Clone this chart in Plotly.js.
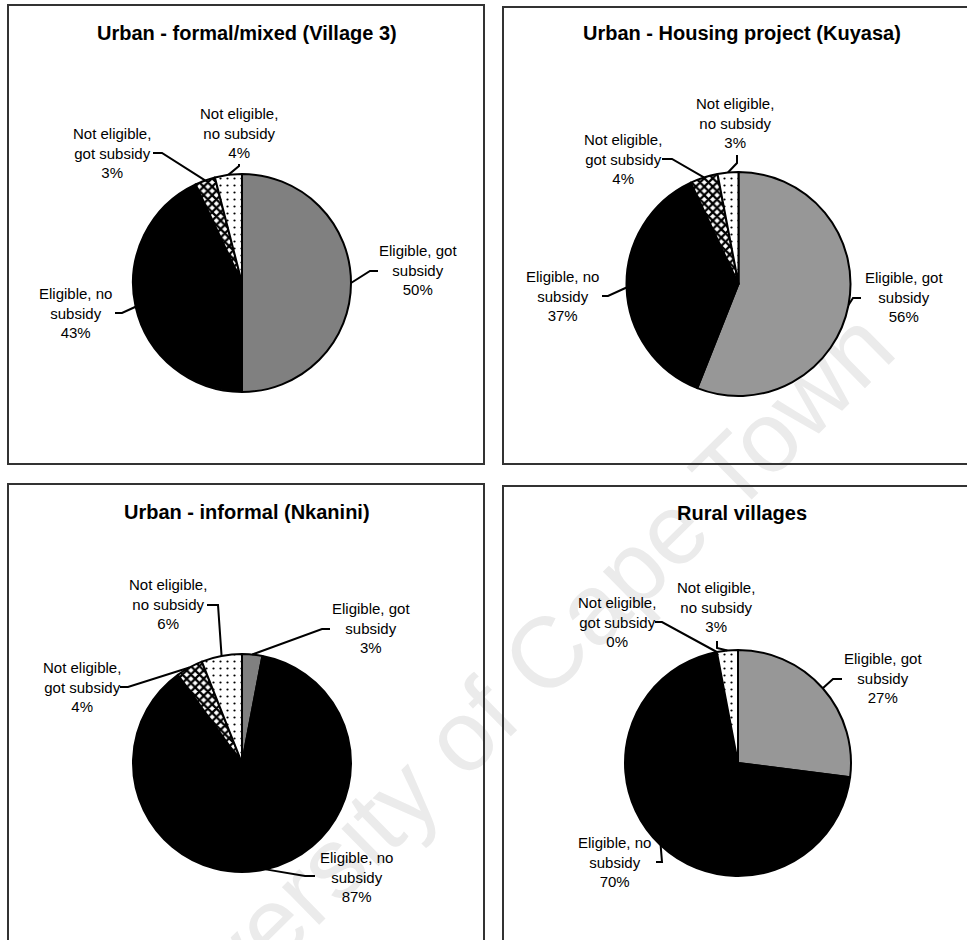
<!DOCTYPE html>
<html>
<head>
<meta charset="utf-8">
<script src="https://cdn.plot.ly/plotly-3.0.1.min.js"></script>
<style>html,body{margin:0;padding:0;background:#fff;}#chart{width:967px;height:940px;}</style>
</head>
<body>
<div id="chart"></div>
<script>
// ---- data ----
const categories = ["Eligible, got subsidy", "Eligible, no subsidy", "Not eligible, got subsidy", "Not eligible, no subsidy"];
const wrappedLabels = ["Eligible, got<br>subsidy", "Eligible, no<br>subsidy", "Not eligible,<br>got subsidy", "Not eligible,<br>no subsidy"];
const titles = ["Urban - formal/mixed (Village 3)", "Urban - Housing project (Kuyasa)", "Urban - informal (Nkanini)", "Rural villages"];
const village3 = [50, 43, 3, 4];
const kuyasa = [56, 37, 4, 3];
const nkanini = [3, 87, 4, 6];
const rural = [27, 70, 0, 3];
const seriesList = [village3, kuyasa, nkanini, rural];
const watermark = "University of Cape Town";

// ---- layout (pixels) ----
const W = 967, H = 940;
const FONT = "Liberation Sans, Arial, Helvetica, sans-serif";
const panels = [
  {cx: 242, cy: 283, r: 109, gray: "#808080", tx: 247, ty: 33, frame: [8, 5, 484, 464],
   labels: [[418, 270, 378, 271, 370, 271], [75, 313, 115, 313, 122, 313], [112, 153, 153, 153, 162, 153], [239, 133, 239, 164, 239, 166]]},
  {cx: 738.5, cy: 284, r: 112, gray: "#979797", tx: 742, ty: 33, frame: [503, 7, 975, 464],
   labels: [[904, 297, 861, 298, 853, 298], [562, 296, 602, 296, 608, 296], [623, 159, 662, 159, 672, 159], [735, 123, 737, 155, 737, 163]]},
  {cx: 242, cy: 763, r: 109, gray: "#808080", tx: 247, ty: 512, frame: [8, 484, 484, 950],
   labels: [[371, 628, 330, 629, 322, 629], [356, 877, 315, 876, 305, 876], [82, 687, 120, 687, 128, 687], [168, 604, 207, 605, 218, 605]]},
  {cx: 738, cy: 763, r: 113, gray: "#979797", tx: 742, ty: 513, frame: [503, 486, 975, 950],
   labels: [[883, 678, 842, 679, 833, 679], [614, 862, 656, 862, 662, 862], [617, 622, 655, 622, 662, 622], [716, 607, 717, 641, 717, 648]]}
];

const px = x => x / W;
const py = y => 1 - y / H;

const traces = [];
const annotations = [];
const shapes = [];

// watermark (below the pies)
const wmC = [485, 700], wmAng = -44.5 * Math.PI / 180, wmHalf = 350;
shapes.push({
  type: "line", xref: "paper", yref: "paper", layer: "below",
  x0: px(wmC[0] - wmHalf * Math.cos(wmAng)), y0: py(wmC[1] - wmHalf * Math.sin(wmAng)),
  x1: px(wmC[0] + wmHalf * Math.cos(wmAng)), y1: py(wmC[1] + wmHalf * Math.sin(wmAng)),
  line: {color: "rgba(0,0,0,0)", width: 0},
  label: {text: watermark, textangle: "auto", textposition: "middle", yanchor: "middle",
          font: {family: FONT, size: 100, color: "#ebebeb"}}
});

panels.forEach((p, i) => {
  const vals = seriesList[i];
  traces.push({
    type: "pie",
    values: vals,
    labels: categories,
    sort: false,
    direction: "clockwise",
    rotation: 0,
    textinfo: "none",
    hoverinfo: "label+percent",
    showlegend: false,
    domain: {x: [px(p.cx - p.r), px(p.cx + p.r)], y: [py(p.cy + p.r), py(p.cy - p.r)]},
    marker: {
      colors: [p.gray, "#000000", "#ffffff", "#ffffff"],
      line: {color: "#000000", width: 2},
      pattern: {shape: ["", "", "x", "."], fgcolor: "#000000", size: [8, 8, 6, 7], solidity: [0.3, 0.3, 0.6, 0.08]}
    }
  });

  // frame
  shapes.push({type: "rect", xref: "paper", yref: "paper", layer: "above",
    x0: px(p.frame[0]), x1: px(p.frame[2]), y0: py(p.frame[3]), y1: py(p.frame[1]),
    line: {color: "#333333", width: 2}, fillcolor: "rgba(0,0,0,0)"});

  // title
  annotations.push({xref: "paper", yref: "paper", x: px(p.tx), y: py(p.ty), xanchor: "center", yanchor: "middle",
    showarrow: false, text: "<b>" + titles[i] + "</b>", font: {family: FONT, size: 20, color: "#000"}});

  // labels and leader lines
  const total = vals.reduce((a, b) => a + b, 0);
  let cum = 0;
  vals.forEach((v, k) => {
    const mid = (cum + v / 2) / total;
    cum += v;
    const th = mid * 2 * Math.PI;
    const tipX = p.cx + p.r * Math.sin(th), tipY = p.cy - p.r * Math.cos(th);
    const L = p.labels[k];
    annotations.push({xref: "paper", yref: "paper", x: px(L[0]), y: py(L[1]), xanchor: "center", yanchor: "middle",
      showarrow: false, align: "center", text: wrappedLabels[k] + "<br>" + Math.round(v / total * 100) + "%",
      font: {family: FONT, size: 15, color: "#000"}});
    shapes.push({type: "path", xref: "paper", yref: "paper", layer: "above",
      path: `M ${px(L[2])},${py(L[3])} L ${px(L[4])},${py(L[5])} L ${px(tipX)},${py(tipY)}`,
      line: {color: "#000000", width: 2}});
  });
});

const layout = {
  width: W, height: H,
  margin: {l: 0, r: 0, t: 0, b: 0},
  paper_bgcolor: "#ffffff",
  plot_bgcolor: "#ffffff",
  showlegend: false,
  annotations: annotations,
  shapes: shapes,
  font: {family: FONT}
};

Plotly.newPlot("chart", traces, layout, {displayModeBar: false, staticPlot: true});
</script>
</body>
</html>
